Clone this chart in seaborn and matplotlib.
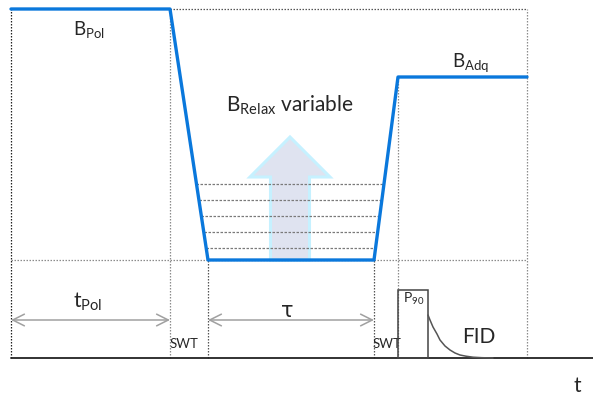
import numpy as np
import pandas as pd
import matplotlib
matplotlib.use("Agg")
import matplotlib.pyplot as plt
import seaborn as sns
from matplotlib.patches import FancyArrow, Rectangle

sns.set_theme(style="white")
plt.rcParams["font.family"] = ["Lato", "DejaVu Sans"]
plt.rcParams["mathtext.fontset"] = "custom"
plt.rcParams["mathtext.rm"] = "Lato"
plt.rcParams["mathtext.it"] = "Lato:italic"

# Field cycle: time breakpoints and field levels (schematic units)
t_start = 11
t_pol_end = 170
t_relax_start = 208
t_relax_end = 374
t_adq_start = 398
t_end = 527

B_pol = 349
B_relax = 98
B_adq = 281
relax_levels = [174, 158, 142, 126, 110]

profile_t = [t_start, t_pol_end, t_relax_start, t_relax_end, t_adq_start, t_end]
profile_B = [B_pol, B_pol, B_relax, B_relax, B_adq, B_adq]

# 90-degree pulse and free induction decay
pulse_end = 428
pulse_height = 68
fid_t = [428, 430, 433, 437, 440, 445, 450, 455, 460, 466, 473, 482, 493]
fid_amp = [43, 38, 31, 24, 18, 12, 8, 5, 3, 1.8, 0.8, 0.3, 0]

fig = plt.figure(figsize=(5.93, 3.95), dpi=100)
ax = fig.add_axes([0, 0, 1, 1])
ax.set_xlim(0, 593)
ax.set_ylim(-37, 358)
ax.axis("off")

grey = "#8c8c8c"
dot = dict(lw=0.9, ls=(0, (1.2, 1.2)), zorder=3)

# Dotted guide frame
ax.plot([t_start, t_start], [0, B_pol], color="#222222", **dot)
ax.plot([t_pol_end, t_end], [B_pol, B_pol], color="#555555", **dot)
ax.plot([t_pol_end, t_pol_end], [0, B_pol], color=grey, **dot)
ax.plot([t_end, t_end], [0, B_pol], color=grey, **dot)
ax.plot([t_start, t_end], [B_relax, B_relax], color=grey, **dot)
ax.plot([t_relax_start, t_relax_start], [0, B_relax], color="#555555", **dot)
ax.plot([t_relax_end, t_relax_end], [0, B_relax], color="#555555", **dot)
ax.plot([t_adq_start, t_adq_start], [0, B_adq], color=grey, **dot)

# Variable relaxation field arrow (behind the level lines)
arrow_base = B_relax
arrow_top = 221
ax.add_patch(FancyArrow(290, arrow_base, 0, arrow_top - arrow_base,
                        width=39, head_width=80, head_length=40,
                        length_includes_head=True, facecolor="#dfe3f0",
                        edgecolor="#c6f1ff", lw=2.2, zorder=1))

# Relaxation field levels between the ramps
for lvl in relax_levels:
    x_left = np.interp(lvl, [B_relax, B_pol], [t_relax_start, t_pol_end])
    x_right = np.interp(lvl, [B_relax, B_adq], [t_relax_end, t_adq_start])
    ax.plot([x_left, x_right], [lvl, lvl], color="#7a7a7a", lw=0.9,
            ls=(0, (2.0, 1.2)), zorder=3)

# Field profile
df = pd.DataFrame({"t": profile_t, "B": profile_B})
sns.lineplot(data=df, x="t", y="B", ax=ax, color="#0a78dc", lw=2.4,
             sort=False, estimator=None, zorder=5)

# Time axis
ax.plot([t_start, 593], [0, 0], color="#222222", lw=1.3, zorder=4)

# Pulse and FID
ax.add_patch(Rectangle((t_adq_start, 0), pulse_end - t_adq_start, pulse_height,
                       fill=False, edgecolor="#444444", lw=1.1, zorder=4))
sns.lineplot(x=fid_t, y=fid_amp, ax=ax, color="#555555", lw=1.1,
             sort=False, estimator=None, zorder=4)

# Duration arrows
arr = dict(arrowstyle="<->,head_length=0.7,head_width=0.35", color="#a0a0a0",
           lw=1.1, shrinkA=0, shrinkB=0)
ax.annotate("", xy=(t_start, 38), xytext=(t_pol_end, 38), arrowprops=arr)
ax.annotate("", xy=(t_relax_start, 38), xytext=(t_relax_end, 38), arrowprops=arr)

# Labels
ax.text(73, 323, r"B$_{\mathrm{Pol}}$", fontsize=13.5, va="baseline")
ax.text(226, 246, r"B$_{\mathrm{Relax}}$ variable", fontsize=15, va="baseline")
ax.text(452, 291, r"B$_{\mathrm{Adq}}$", fontsize=13.5, va="baseline")
ax.text(73, 50, r"t$_{\mathrm{Pol}}$", fontsize=15, va="baseline")
ax.text(281, 41, "τ", fontsize=15, va="baseline", family=["DejaVu Sans"])
ax.text(170, 10, "SWT", fontsize=9.5, va="baseline")
ax.text(373, 10, "SWT", fontsize=9.5, va="baseline")
ax.text(403, 55, r"P$_{\mathrm{90}}$", fontsize=10, va="baseline")
ax.text(462, 15, "FID", fontsize=15, va="baseline")
ax.text(573, -34, "t", fontsize=15, va="baseline")

fig.savefig("out.png", dpi=100)
